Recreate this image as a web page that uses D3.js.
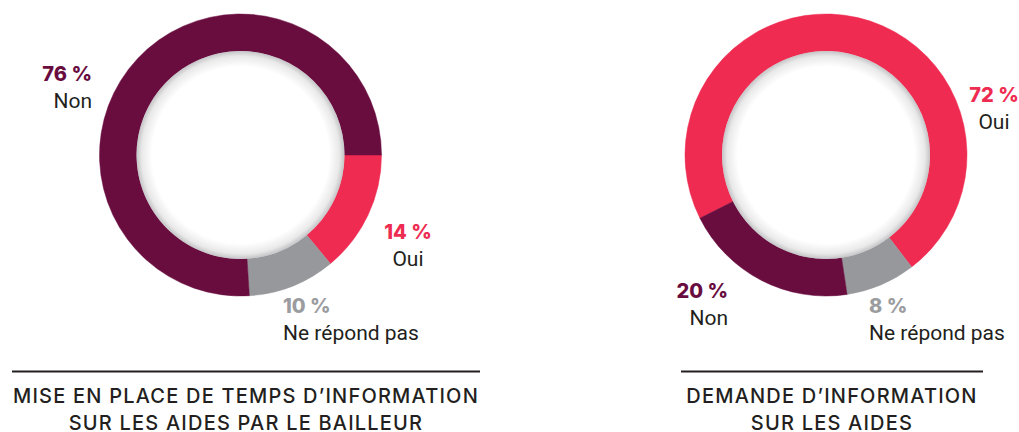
<!DOCTYPE html>
<html>
<head>
<meta charset="utf-8">
<script src="https://cdn.jsdelivr.net/npm/d3@7"></script>
<style>
  body { margin: 0; background: #fff; }
  svg { display: block; }
</style>
</head>
<body>
<svg></svg>
<script>
// categories and values for both donuts
const categories = ["Oui", "Ne répond pas", "Non"];
const valuesLeft = [14, 10, 76];
const valuesRight = [72, 8, 20];
const titleLeft = ["MISE EN PLACE DE TEMPS D\u2019INFORMATION", "SUR LES AIDES PAR LE BAILLEUR"];
const titleRight = ["DEMANDE D\u2019INFORMATION", "SUR LES AIDES"];

const W = 1019, H = 432;
const colors = { "Oui": "#ef2b51", "Ne répond pas": "#97989c", "Non": "#690d3f" };
const labelColors = { "Oui": "#ee2b51", "Ne répond pas": "#9b9ca0", "Non": "#690d3f" };

const outerR = 141, innerR = 104;

const svg = d3.select("svg").attr("width", W).attr("height", H);

// inner shadow of the hole
const defs = svg.append("defs");
const grad = defs.append("radialGradient").attr("id", "holeShade");
grad.append("stop").attr("offset", "0.85").attr("stop-color", "#ffffff");
grad.append("stop").attr("offset", "0.95").attr("stop-color", "#e9e9ea");
grad.append("stop").attr("offset", "1").attr("stop-color", "#c4c4c6");

const charts = [
  {
    values: valuesLeft, title: titleLeft, cx: 240.5, cy: 155, start: 90,
    titleX: 246, lineX: [12, 480],
    // label anchors relative to the center: [dx, dy of percent baseline, anchor]
    labels: { "Non": [-148.5, -74, "end"], "Oui": [167.5, 84, "middle"], "Ne répond pas": [42.5, 158, "start"] }
  },
  {
    values: valuesRight, title: titleRight, cx: 826, cy: 155, start: -116.6,
    titleX: 832, lineX: [681, 983],
    labels: { "Oui": [168, -53, "middle"], "Non": [-98, 143, "end"], "Ne répond pas": [43, 158, "start"] }
  }
];

const arc = d3.arc().innerRadius(innerR).outerRadius(outerR);

charts.forEach(c => {
  const data = categories.map((k, i) => ({ key: k, value: c.values[i] }));
  const a0 = c.start * Math.PI / 180;
  const pie = d3.pie().sort(null).value(d => d.value)
    .startAngle(a0).endAngle(a0 + 2 * Math.PI);

  const g = svg.append("g").attr("transform", `translate(${c.cx},${c.cy})`);

  g.selectAll("path.slice")
    .data(pie(data))
    .join("path")
    .attr("class", "slice")
    .attr("d", arc)
    .attr("fill", d => colors[d.data.key])
    .attr("stroke", d => colors[d.data.key])
    .attr("stroke-width", 0.5);

  g.append("circle")
    .attr("r", innerR)
    .attr("fill", "url(#holeShade)");

  // labels
  data.forEach(d => {
    const [dx, dy, anchor] = c.labels[d.key];
    g.append("text")
      .attr("x", dx).attr("y", dy)
      .attr("text-anchor", anchor)
      .attr("font-family", "Inter, sans-serif")
      .attr("font-weight", 800)
      .attr("font-size", 20)
      .attr("fill", labelColors[d.key])
      .text(d.value + " %");
    g.append("text")
      .attr("x", dx).attr("y", dy + 27)
      .attr("text-anchor", anchor)
      .attr("font-family", "Roboto, sans-serif")
      .attr("font-size", 21)
      .attr("fill", "#231f20")
      .text(d.key);
  });

  // separator line and title
  svg.append("line")
    .attr("x1", c.lineX[0]).attr("x2", c.lineX[1])
    .attr("y1", 371.5).attr("y2", 371.5)
    .attr("stroke", "#231f20").attr("stroke-width", 2);

  svg.append("text")
    .attr("text-anchor", "middle")
    .attr("font-family", "Inter, sans-serif")
    .attr("font-weight", 500)
    .attr("font-size", 20)
    .attr("letter-spacing", 1.2)
    .attr("fill", "#231f20")
    .selectAll("tspan")
    .data(c.title)
    .join("tspan")
    .attr("x", c.titleX)
    .attr("y", (d, i) => 403 + i * 27)
    .text(d => d);
});
</script>
</body>
</html>
